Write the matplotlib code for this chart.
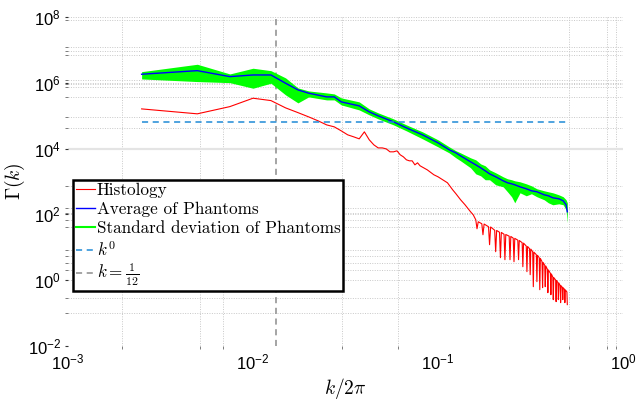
import numpy as np
import matplotlib
matplotlib.use('Agg')
import matplotlib.pyplot as plt
from matplotlib.lines import Line2D
from matplotlib.ticker import FixedLocator, LogFormatterSciNotation, NullFormatter

plt.rcParams['font.family'] = ['Liberation Sans', 'DejaVu Sans']
plt.rcParams['mathtext.fontset'] = 'cm'

N_GRID = 400  # k/2pi = index / N_GRID

# ---- Phantoms: average and +/- std band ----
phant_index = [1, 2, 3, 4, 5, 6, 7, 8, 10, 11, 12, 15, 17, 19, 23, 27, 33, 40, 46, 50,
               53, 60, 64, 68, 72, 76, 82, 90, 95, 100, 104, 111, 120, 128, 137, 150,
               158, 167, 180, 190, 197, 200]
phant_avg = [1.82e6, 2.34e6, 1.54e6, 1.73e6, 1.73e6, 9.7e5, 6.08e5, 4.83e5, 3.73e5, 3.73e5,
             2.63e5, 1.99e5, 1.31e5, 9.9e4, 6.5e4, 4.27e4, 2.62e4, 1.50e4, 9.2e3, 7.4e3,
             6.0e3, 3.96e3, 3.21e3, 2.61e3, 2.11e3, 1.71e3, 1.39e3, 1.05e3, 914, 851,
             794, 690, 600, 522, 487, 394, 368, 320, 298, 259, 196, 120]
phant_hi = [2.18e6, 3.66e6, 1.86e6, 2.77e6, 2.34e6, 1.41e6, 7.0e5, 5.66e5, 4.93e5, 4.59e5,
            3.48e5, 2.63e5, 1.61e5, 1.22e5, 8.0e4, 5.26e4, 3.23e4, 1.85e4, 1.13e4, 8.6e3,
            7.4e3, 5.25e3, 4.56e3, 3.44e3, 3.0e3, 2.26e3, 1.84e3, 1.39e3, 1.21e3, 1.13e3,
            1.05e3, 980, 851, 740, 600, 522, 487, 454, 394, 344, 278, 225]
phant_lo = [1.31e6, 1.09e6, 1.01e6, 6.84e5, 9.7e5, 4.29e5, 2.45e5, 3.73e5, 3.02e5, 3.02e5,
            2.13e5, 1.50e5, 1.06e5, 8.0e4, 5.26e4, 3.46e4, 1.98e4, 1.13e4, 7.4e3, 5.25e3,
            4.25e3, 2.61e3, 1.71e3, 1.49e3, 1.13e3, 1.13e3, 794, 690, 487, 344,
            225, 454, 368, 424, 344, 278, 225, 196, 210, 196, 138, 55.7]

# ---- Histology ----
hist_index = [1, 2, 3, 4, 5, 6, 7, 8, 9, 10, 11, 12, 13, 14, 15, 16, 17, 18, 19, 20,
              21, 22, 23, 24, 25, 26, 27, 28, 29, 30, 31, 32, 35, 38, 40, 45, 48, 50, 53, 56,
              60, 62, 64, 65, 66,
              69, 70, 71, 75, 76, 77, 81, 82, 83, 86, 87, 88, 91, 92, 93, 97, 98, 99,
              102, 103, 104, 108, 109, 110, 114, 115, 116, 120, 121, 122, 125, 126, 127,
              130, 131, 132, 136, 137, 138, 141, 142, 143, 146, 147, 148, 151, 152, 153,
              156, 157, 158, 162, 163, 164, 167, 168, 169, 173, 174, 175, 178, 179, 180,
              183, 184, 185, 188, 189, 190, 193, 194, 195, 199, 200]
hist_val = [1.61e5, 1.14e5, 1.89e5, 3.40e5, 2.88e5, 1.73e5, 1.24e5, 9.2e4, 6.97e4, 5.26e4,
            4.58e4, 3.46e4, 2.62e4, 2.28e4, 1.98e4, 3.23e4, 1.85e4, 1.30e4, 1.05e4, 1.05e4,
            9.8e3, 7.98e3, 7.98e3, 8.55e3, 6.47e3, 5.62e3, 4.56e3, 4.25e3, 4.25e3, 3.21e3,
            3.70e3, 3.0e3, 2.26e3, 1.60e3, 1.39e3, 914, 560, 424, 278, 196,
            120, 97.5, 68.7, 36.6, 59.8,
            52.0, 24.1, 51.0, 42.2, 12.0, 41.5, 33.0, 7.35, 32.5, 28.7, 4.83, 28.3,
            24.9, 4.20, 24.5, 21.8, 4.20, 21.4, 19.0, 3.65, 18.7, 16.5, 4.20, 16.1,
            13.8, 2.57, 13.4, 10.9, 1.82, 10.6, 9.06, 1.47, 8.8, 7.35, 0.635, 7.1,
            5.96, 0.902, 5.7, 4.83, 0.515, 4.6, 3.65, 0.593, 3.45, 2.84, 0.635, 2.7,
            2.16, 0.418, 2.05, 1.62, 0.363, 1.55, 1.24, 0.256, 1.2, 1.01, 0.223, 0.98,
            0.841, 0.256, 0.82, 0.692, 0.208, 0.68, 0.605, 0.256, 0.59, 0.53, 0.208, 0.51,
            0.44, 0.181]

k0_level = 6.5e4
k_cut = 1.0 / 12.0 / (2 * np.pi)

# decorative grid positions seen in the reference
x_grid = [0.00196, 0.00517, 0.00688, 0.0303, 0.0608, 0.51, 0.82, 0.916]
y_grid = [8.1e7, 1.23e7, 9.3e6, 7.0e6, 1.22e6, 9.2e5, 7.5e5, 3.7e5, 9.2e4, 4.3e4,
          740, 159, 112, 69, 42, 8.4, 5.5, 3.4, 2.1, 0.29, 0.10]

labels = ['Histology', 'Average of Phantoms', 'Standard deviation of Phantoms',
          r'$k^0$', r'$k=\frac{1}{12}$']

k_phant = np.array(phant_index) / N_GRID
k_hist = np.array(hist_index) / N_GRID

fig = plt.figure(figsize=(6.4, 4.03), dpi=100)
ax = fig.add_axes([68/640, 1-346/403, (623-68)/640, (346-17)/403])
ax.set_xscale('log')
ax.set_yscale('log')
ax.set_xlim(1e-3, 1e0)
ax.set_ylim(1e-2, 1e8)

for s in ax.spines.values():
    s.set_visible(False)

gridkw = dict(color='#c8c8c8', lw=0.7, ls=(0, (1, 1.5)), zorder=0)
for xv in x_grid:
    ax.axvline(xv, **gridkw)
for yv in y_grid + [1e8, 1e6, 1e2, 1e0]:
    ax.axhline(yv, **gridkw)
ax.axhline(1e4, color='#e4e4e4', lw=1.6, zorder=0)

ax.fill_between(k_phant, phant_lo, phant_hi, color='#00ff00', lw=0, zorder=2)
l_avg, = ax.plot(k_phant, phant_avg, color='#0000ff', lw=1.0, zorder=3)
l_hist, = ax.plot(k_hist, hist_val, color='#ff0000', lw=0.8, zorder=3)
l_k0, = ax.plot([k_hist[0], k_hist[-1]], [k0_level, k0_level], color='#1f8ad6',
                lw=1.1, ls=(0, (4, 3)), zorder=3)
l_cut = ax.axvline(k_cut, color='#8c8c8c', lw=1.1, ls=(0, (4, 3)), zorder=1)
g_proxy = Line2D([], [], color='#00ff00', lw=1.5)

ax.xaxis.set_major_locator(FixedLocator([1e-3, 1e-2, 1e-1, 1e0]))
ax.xaxis.set_minor_locator(FixedLocator(x_grid))
ax.yaxis.set_major_locator(FixedLocator([1e-2, 1e0, 1e2, 1e4, 1e6, 1e8]))
ax.yaxis.set_minor_locator(FixedLocator(y_grid))
ax.xaxis.set_major_formatter(LogFormatterSciNotation())
ax.yaxis.set_major_formatter(LogFormatterSciNotation())
ax.xaxis.set_minor_formatter(NullFormatter())
ax.yaxis.set_minor_formatter(NullFormatter())
ax.tick_params(which='major', labelsize=12, length=2, width=0.8, color='#333333', pad=3)
ax.tick_params(which='minor', length=2, width=0.6, color='#666666')
ax.tick_params(axis='x', which='major', length=0, pad=5)

ax.set_xlabel(r'$k/2\pi$', fontsize=14, labelpad=2)
ax.set_ylabel(r'$\Gamma(k)$', fontsize=14)
ax.yaxis.set_label_coords(-0.074, 0.5)

leg = ax.legend([l_hist, l_avg, g_proxy, l_k0, l_cut], labels,
                loc='upper left', bbox_to_anchor=(0.009, 0.505), borderaxespad=0,
                prop={'family': 'cmr10', 'size': 12.3}, frameon=True, fancybox=False,
                framealpha=1, edgecolor='black', handlelength=1.15, handletextpad=0.1,
                borderpad=0.15, labelspacing=0.22)
leg.get_frame().set_linewidth(1.8)
leg.set_zorder(5)

fig.savefig('out.png', dpi=100)
